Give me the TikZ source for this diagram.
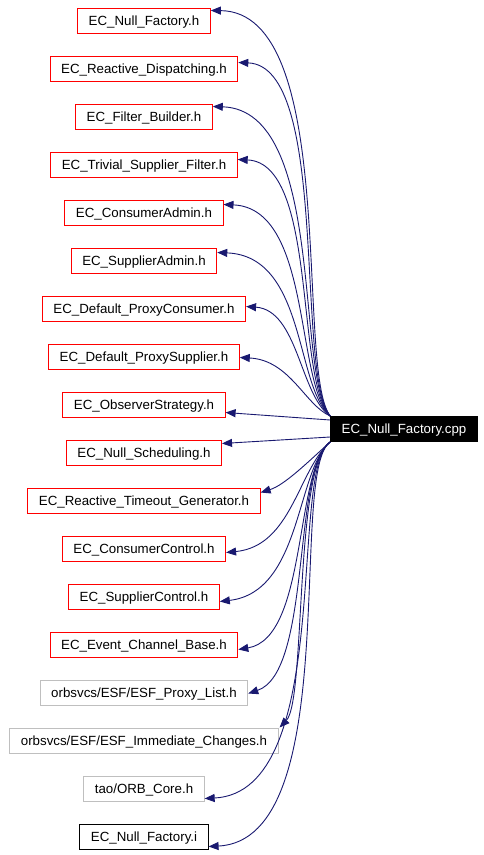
\documentclass[tikz,border=0pt]{standalone}
\usepackage{fontspec}
\setmainfont{Liberation Sans}
\usetikzlibrary{arrows.meta}

\definecolor{edgeblue}{HTML}{191970}
\tikzset{
  hfile/.style={draw=red, line width=1pt, minimum height=25pt, inner xsep=11pt, inner ysep=0pt, text height=9.6pt, text depth=0pt, font=\fontsize{13.3}{16}\selectfont},
  extfile/.style={hfile, draw=gray!50},
  inlfile/.style={hfile, draw=black},
  srcfile/.style={hfile, draw=black, fill=black, text=white},
  dep/.style={-{Triangle[length=10pt,width=8pt]}, draw=edgeblue, line width=0.9pt},
}

\begin{document}
\begin{tikzpicture}[x=1pt,y=-1pt]
\useasboundingbox (0,0) rectangle (484,855);
% included headers
\node[hfile] (nfh) at (144,20.5) {EC\_Null\_Factory.h};
\node[hfile] (rdh) at (144,68.5) {EC\_Reactive\_Dispatching.h};
\node[hfile] (fbh) at (144,116.5) {EC\_Filter\_Builder.h};
\node[hfile] (tsfh) at (144,164.5) {EC\_Trivial\_Supplier\_Filter.h};
\node[hfile] (cah) at (144,212.5) {EC\_ConsumerAdmin.h};
\node[hfile] (sah) at (144,260.5) {EC\_SupplierAdmin.h};
\node[hfile] (dpch) at (144,308.5) {EC\_Default\_ProxyConsumer.h};
\node[hfile] (dpsh) at (144,356.5) {EC\_Default\_ProxySupplier.h};
\node[hfile] (osh) at (144,404.5) {EC\_ObserverStrategy.h};
\node[hfile] (nsch) at (144,452.5) {EC\_Null\_Scheduling.h};
\node[hfile] (rtgh) at (144,500.5) {EC\_Reactive\_Timeout\_Generator.h};
\node[hfile] (cch) at (144,548.5) {EC\_ConsumerControl.h};
\node[hfile] (sch) at (144,596.5) {EC\_SupplierControl.h};
\node[hfile] (ecbh) at (144,644.5) {EC\_Event\_Channel\_Base.h};
\node[extfile] (plh) at (144,692.5) {orbsvcs/ESF/ESF\_Proxy\_List.h};
\node[extfile] (ich) at (144,740.5) {orbsvcs/ESF/ESF\_Immediate\_Changes.h};
\node[extfile] (orbh) at (144,788.5) {tao/ORB\_Core.h};
\node[inlfile] (nfi) at (144,836.5) {EC\_Null\_Factory.i};
% the source file
\node[srcfile] (nfcpp) at (404,429) {EC\_Null\_Factory.cpp};
% include edges, upper half
\draw[dep] (nfcpp.north west) .. controls (295,370) and (340,12) .. ([yshift=10pt]nfh.east);
\draw[dep] (nfcpp.north west) .. controls (295,372) and (330,66) .. ([yshift=6pt]rdh.east);
\draw[dep] (nfcpp.north west) .. controls (295,375) and (326,110) .. ([yshift=10pt]fbh.east);
\draw[dep] (nfcpp.north west) .. controls (295,378) and (318,163) .. ([yshift=5pt]tsfh.east);
\draw[dep] (nfcpp.north west) .. controls (295,382) and (312,208) .. ([yshift=8pt]cah.east);
\draw[dep] (nfcpp.north west) .. controls (295,386) and (306,256) .. ([yshift=8pt]sah.east);
\draw[dep] (nfcpp.north west) .. controls (300,395) and (298,310) .. ([yshift=2pt]dpch.east);
\draw[dep] (nfcpp.north west) .. controls (305,405) and (290,360) .. ([yshift=-1pt]dpsh.east);
\draw[dep] ([yshift=-4pt]nfcpp.north west) -- ([yshift=-8pt]osh.east);
\draw[dep] ([yshift=5pt]nfcpp.south west) -- ([yshift=9pt]nsch.east);
% include edges, lower half
\draw[dep] (nfcpp.south west) .. controls (310,460) and (285,485) .. ([yshift=8pt]rtgh.east);
\draw[dep] (nfcpp.south west) .. controls (298,470) and (292,546) .. ([yshift=-4pt]cch.east);
\draw[dep] (nfcpp.south west) .. controls (296,470) and (302,592) .. ([yshift=-5pt]sch.east);
\draw[dep] (nfcpp.south west) .. controls (294,470) and (308,638) .. ([yshift=-5pt]ecbh.east);
\draw[dep] (nfcpp.south west) .. controls (292,468) and (312,672) .. ([yshift=-1pt]plh.east);
\draw[dep] (nfcpp.south west) .. controls (294,466) and (306,700) .. ([xshift=1pt]ich.north east);
\draw[dep] (nfcpp.south west) .. controls (288,470) and (335,792) .. ([yshift=-10pt]orbh.east);
\draw[dep] (nfcpp.south west) .. controls (288,470) and (345,840) .. ([yshift=-10pt]nfi.east);
\end{tikzpicture}
\end{document}
